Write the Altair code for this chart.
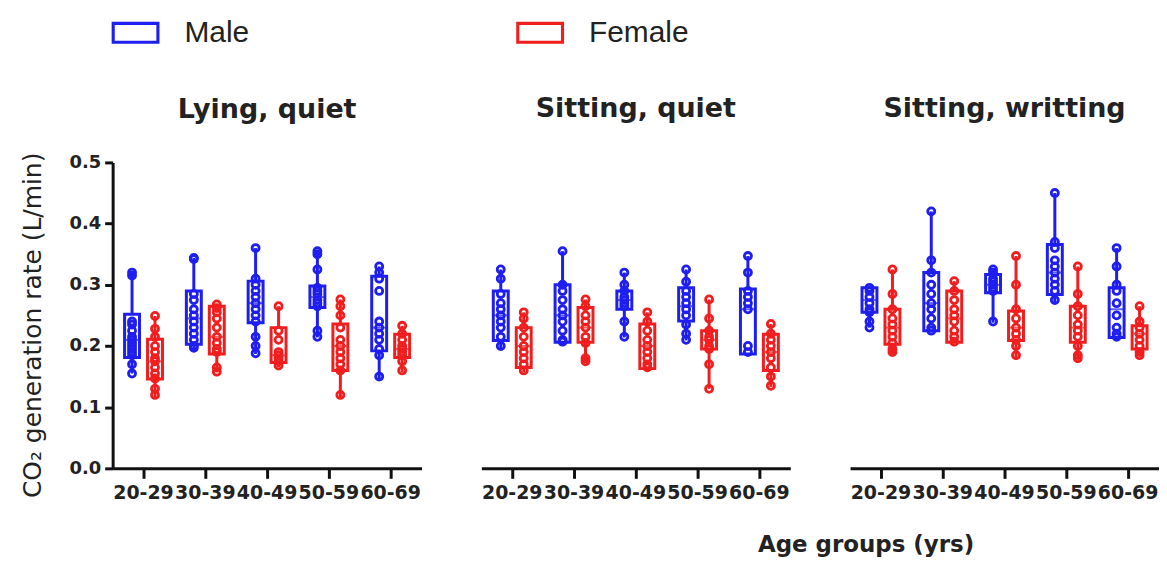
import altair as alt
import pandas as pd

ages = ["20-29", "30-39", "40-49", "50-59", "60-69"]
sexes = ["Male", "Female"]
panel_titles = ["Lying,  quiet", "Sitting, quiet", "Sitting, writting"]
colors = ["#1e1ef0", "#f01e1e"]

# box statistics per age group: [min, q1, median, q3, max]
lying_male = [[0.155, 0.181, 0.210, 0.252, 0.320], [0.195, 0.203, 0.245, 0.290, 0.344],
              [0.187, 0.238, 0.270, 0.306, 0.360], [0.214, 0.263, 0.280, 0.298, 0.355],
              [0.146, 0.192, 0.230, 0.314, 0.330]]
lying_female = [[0.116, 0.146, 0.175, 0.211, 0.249], [0.157, 0.187, 0.215, 0.265, 0.268],
                [0.165, 0.173, 0.185, 0.230, 0.265], [0.116, 0.160, 0.200, 0.236, 0.276],
                [0.157, 0.181, 0.195, 0.219, 0.233]]
sitq_male = [[0.195, 0.209, 0.250, 0.290, 0.325], [0.206, 0.206, 0.250, 0.300, 0.355],
             [0.214, 0.260, 0.275, 0.290, 0.320], [0.209, 0.241, 0.265, 0.295, 0.325],
             [0.187, 0.187, 0.260, 0.293, 0.347]]
sitq_female = [[0.157, 0.165, 0.200, 0.230, 0.255], [0.173, 0.206, 0.230, 0.263, 0.276],
               [0.163, 0.163, 0.200, 0.236, 0.255], [0.130, 0.195, 0.210, 0.225, 0.276],
               [0.133, 0.160, 0.190, 0.219, 0.236]]
sitw_male = [[0.230, 0.255, 0.275, 0.295, 0.295], [0.225, 0.225, 0.270, 0.320, 0.420],
             [0.238, 0.287, 0.300, 0.317, 0.325], [0.271, 0.284, 0.320, 0.366, 0.450],
             [0.214, 0.214, 0.260, 0.295, 0.360]]
sitw_female = [[0.187, 0.203, 0.230, 0.260, 0.325], [0.206, 0.206, 0.245, 0.290, 0.306],
               [0.179, 0.209, 0.230, 0.257, 0.347], [0.179, 0.206, 0.230, 0.265, 0.330],
               [0.184, 0.195, 0.220, 0.233, 0.265]]

# individual subject values per age group
lying_male_pts = [[0.32, 0.315, 0.24, 0.235, 0.225, 0.215, 0.21, 0.205, 0.2, 0.195, 0.19, 0.185, 0.17, 0.155],
                  [0.344, 0.342, 0.285, 0.275, 0.26, 0.25, 0.24, 0.23, 0.22, 0.21, 0.2, 0.197],
                  [0.36, 0.31, 0.3, 0.29, 0.28, 0.27, 0.26, 0.25, 0.24, 0.215, 0.2, 0.188],
                  [0.355, 0.35, 0.325, 0.295, 0.29, 0.285, 0.275, 0.27, 0.265, 0.225, 0.215],
                  [0.33, 0.32, 0.31, 0.29, 0.24, 0.23, 0.22, 0.21, 0.195, 0.185, 0.15]]
lying_female_pts = [[0.249, 0.228, 0.215, 0.2, 0.19, 0.18, 0.175, 0.165, 0.155, 0.147, 0.13, 0.12],
                    [0.268, 0.262, 0.255, 0.245, 0.23, 0.215, 0.205, 0.195, 0.19, 0.165, 0.158],
                    [0.265, 0.225, 0.21, 0.19, 0.185, 0.18, 0.175, 0.168],
                    [0.276, 0.265, 0.25, 0.23, 0.21, 0.2, 0.19, 0.18, 0.17, 0.16, 0.12],
                    [0.233, 0.22, 0.21, 0.2, 0.195, 0.19, 0.185, 0.175, 0.16]]
sitq_male_pts = [[0.325, 0.31, 0.285, 0.27, 0.26, 0.25, 0.24, 0.23, 0.215, 0.2],
                 [0.355, 0.3, 0.29, 0.275, 0.26, 0.25, 0.24, 0.225, 0.21, 0.207],
                 [0.32, 0.3, 0.29, 0.28, 0.275, 0.27, 0.265, 0.24, 0.215],
                 [0.325, 0.305, 0.29, 0.28, 0.27, 0.26, 0.25, 0.235, 0.22, 0.21],
                 [0.347, 0.32, 0.29, 0.28, 0.27, 0.26, 0.2, 0.19]]
sitq_female_pts = [[0.255, 0.245, 0.23, 0.215, 0.2, 0.19, 0.18, 0.17, 0.16],
                   [0.276, 0.265, 0.25, 0.24, 0.23, 0.215, 0.205, 0.18, 0.175],
                   [0.255, 0.24, 0.225, 0.21, 0.2, 0.19, 0.18, 0.17, 0.165],
                   [0.276, 0.245, 0.225, 0.215, 0.21, 0.2, 0.195, 0.17, 0.13],
                   [0.236, 0.22, 0.21, 0.2, 0.19, 0.18, 0.165, 0.15, 0.135]]
sitw_male_pts = [[0.295, 0.29, 0.28, 0.27, 0.26, 0.255, 0.24, 0.23],
                 [0.42, 0.34, 0.32, 0.3, 0.285, 0.27, 0.26, 0.245, 0.23, 0.225],
                 [0.325, 0.32, 0.31, 0.305, 0.3, 0.295, 0.29, 0.24],
                 [0.45, 0.37, 0.36, 0.34, 0.33, 0.32, 0.31, 0.3, 0.29, 0.275],
                 [0.36, 0.33, 0.3, 0.29, 0.27, 0.25, 0.23, 0.22, 0.215]]
sitw_female_pts = [[0.325, 0.285, 0.26, 0.245, 0.235, 0.225, 0.215, 0.205, 0.195, 0.19],
                   [0.306, 0.29, 0.275, 0.26, 0.25, 0.24, 0.225, 0.215, 0.207],
                   [0.347, 0.3, 0.26, 0.245, 0.23, 0.22, 0.21, 0.2, 0.185],
                   [0.33, 0.285, 0.265, 0.25, 0.235, 0.225, 0.215, 0.2, 0.185, 0.18],
                   [0.265, 0.24, 0.23, 0.22, 0.21, 0.2, 0.19, 0.185]]

y_ticks = [0.0, 0.1, 0.2, 0.3, 0.4, 0.5]

panel_stats = [(lying_male, lying_female), (sitq_male, sitq_female), (sitw_male, sitw_female)]
panel_pts = [(lying_male_pts, lying_female_pts), (sitq_male_pts, sitq_female_pts),
             (sitw_male_pts, sitw_female_pts)]

FONT = "DejaVu Sans"

color_scale = alt.Scale(domain=sexes, range=colors)
x_off = alt.XOffset("sex:N", scale=alt.Scale(domain=sexes, paddingInner=0.35, paddingOuter=0.52))
# open rectangle (frame) symbol: outer rect minus inner rect
frame_symbol = "M-1,-0.46H1V0.46H-1Z M-0.87,-0.33V0.33H0.87V-0.33Z"
legend = alt.Legend(
    orient="none", legendX=-1, legendY=-154, direction="horizontal", title=None,
    symbolType=frame_symbol, symbolSize=2304, symbolStrokeWidth=0,
    labelFontSize=30, labelFont="Liberation Sans",
    labelColor="#222222", columnPadding=267, labelOffset=25,
)


def panel(i, show_y):
    rows, prow = [], []
    for s, stats, pts in zip(sexes, panel_stats[i], panel_pts[i]):
        for a, st, pv in zip(ages, stats, pts):
            rows.append(dict(age=a, sex=s, lo=st[0], q1=st[1], med=st[2], q3=st[3], hi=st[4]))
            for v in pv:
                prow.append(dict(age=a, sex=s, value=v))
    sdf = pd.DataFrame(rows)
    pdf = pd.DataFrame(prow)

    if show_y:
        yax = alt.Axis(values=y_ticks, format=".1f", grid=False, title="CO₂ generation rate (L/min)",
                       titleFont=FONT, titleFontSize=25, titleFontWeight="normal", titleColor="#222",
                       titleY=163, titleX=-80, titleAlign="center", titleBaseline="middle",
                       labelFont=FONT, labelFontSize=18, labelFontWeight="bold", labelColor="#222",
                       domainColor="#111", domainWidth=3, tickColor="#111", tickWidth=3, tickSize=8,
                       labelPadding=4)
    else:
        yax = None
    xax = alt.Axis(title=None, labelAngle=0, labelFont=FONT, labelFontSize=19, labelFontWeight="bold",
                   labelColor="#222", domainColor="#111", domainWidth=3, tickColor="#111",
                   tickWidth=3, tickSize=10, labelPadding=5, grid=False, labelOverlap=False)
    x = alt.X("age:N", sort=ages, axis=xax, scale=alt.Scale(paddingInner=0, paddingOuter=0))
    yscale = alt.Scale(domain=[0, 0.5], nice=False)
    col = alt.Color("sex:N", scale=color_scale, legend=None)

    box = alt.Chart(sdf).mark_bar(fill="white", strokeWidth=3).encode(
        x=x, xOffset=x_off, y=alt.Y("q1:Q", scale=yscale, axis=yax), y2="q3:Q",
        stroke=alt.Stroke("sex:N", scale=color_scale, legend=legend))
    whisk_lo = alt.Chart(sdf).mark_rule(strokeWidth=3).encode(
        x=x, xOffset=x_off, y=alt.Y("lo:Q", scale=yscale), y2="q1:Q", color=col)
    whisk_hi = alt.Chart(sdf).mark_rule(strokeWidth=3).encode(
        x=x, xOffset=x_off, y=alt.Y("q3:Q", scale=yscale), y2="hi:Q", color=col)
    med = alt.Chart(sdf).mark_tick(thickness=2, size=15, orient="horizontal").encode(
        x=x, xOffset=x_off, y=alt.Y("med:Q", scale=yscale), color=col)
    pts = alt.Chart(pdf).mark_point(shape="circle", filled=False, strokeWidth=2.8, size=50, opacity=1).encode(
        x=x, xOffset=x_off, y=alt.Y("value:Q", scale=yscale), color=col)
    return alt.layer(box, whisk_lo, whisk_hi, med, pts).properties(
        width=310, height=307,
        title=alt.TitleParams(panel_titles[i], font=FONT, fontSize=27, fontWeight="bold",
                              color="#222", offset=28 if show_y else 40, anchor="middle"))


chart = alt.hconcat(panel(0, True), panel(1, False), panel(2, False), spacing=60).properties(
    title=alt.TitleParams("Age groups (yrs)", orient="bottom", anchor="middle", dx=277,
                          font=FONT, fontSize=23, fontWeight="bold", color="#222", offset=32),
    padding={"left": 12, "top": 0, "right": 0, "bottom": 0},
).configure_view(stroke=None)

chart.save("out.html", embed_options={"renderer": "svg", "actions": False})
